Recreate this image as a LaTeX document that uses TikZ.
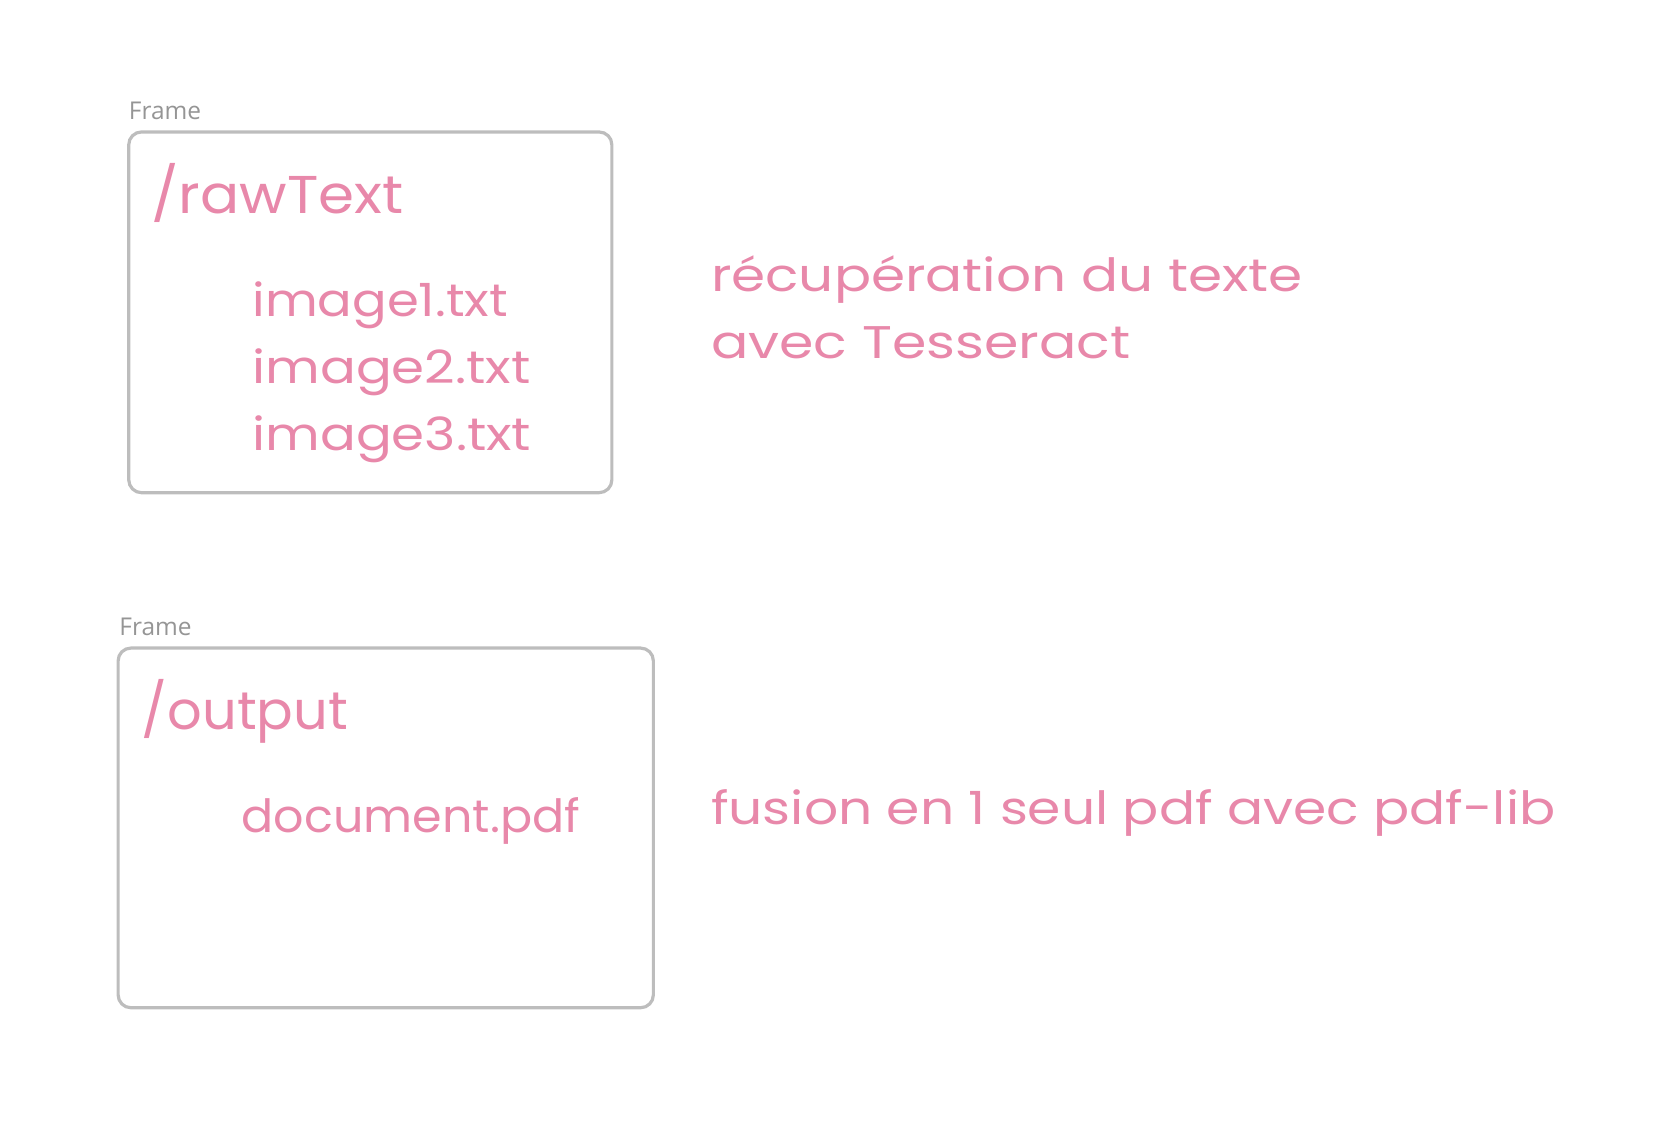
\documentclass[tikz,border=0pt]{standalone}
\usepackage{graphicx}
\usepackage{fontspec}
\setmainfont{Poppins}
\newfontfamily\labelfont{Open Sans}
\definecolor{pinkink}{HTML}{E888AA}
\definecolor{framegray}{HTML}{BDBDBD}
\definecolor{labelgray}{HTML}{959595}
\newcommand\hstretch[2]{\scalebox{#1}[1]{#2}}
\begin{document}
\begin{tikzpicture}[x=1pt,y=-1pt,
  frame/.style={draw=framegray,line width=3pt,rounded corners=12pt},
  framelabel/.style={anchor=base west,inner sep=0pt,text=labelgray,font=\labelfont\fontsize{23}{27}\selectfont},
  hand/.style={anchor=base west,inner sep=0pt,text=pinkink},
  big/.style={hand,font=\fontsize{50}{54}\selectfont},
  mid/.style={hand,font=\fontsize{43}{47}\selectfont}]
\useasboundingbox (0,0) rectangle (1560,1077);
% top frame
\node[framelabel] (lab1) at (121,112) {Frame};
\draw[frame] (121,124) rectangle (575,463);
\node[big] (raw) at (142,201) {\hstretch{1.09}{/rawText}};
\node[mid] (i1) at (237,297) {\hstretch{1.12}{image1.txt}};
\node[mid] (i2) at (237,360) {\hstretch{1.16}{image2.txt}};
\node[mid] (i3) at (237,423) {\hstretch{1.16}{image3.txt}};
\node[mid] (t1) at (668,274) {\hstretch{1.20}{récupération du texte}};
\node[mid] (t2) at (668,337) {\hstretch{1.21}{avec Tesseract}};
% bottom frame
\node[framelabel] (lab2) at (112,597) {Frame};
\draw[frame] (111,609) rectangle (614,947);
\node[big] (out) at (133,686) {\hstretch{1.02}{/output}};
\node[mid] (doc) at (227,782) {\hstretch{1.04}{document.pdf}};
\node[mid] (t3) at (668,775) {\hstretch{1.17}{fusion en 1 seul pdf avec pdf-lib}};
\end{tikzpicture}
\end{document}
